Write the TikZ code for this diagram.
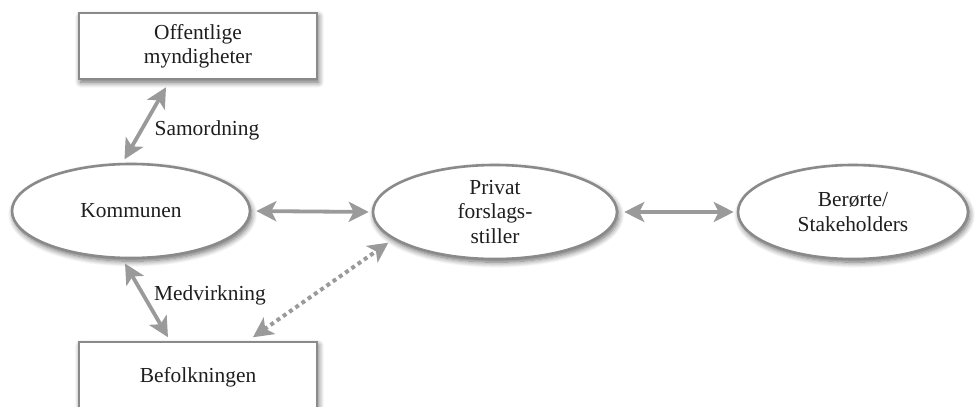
\documentclass[tikz,border=0pt]{standalone}
\usepackage{fontspec}
\setmainfont{Liberation Serif}
\usetikzlibrary{shapes.geometric,arrows.meta,shadows.blur}

\definecolor{edgegray}{HTML}{8A8A8A}
\definecolor{arrowgray}{HTML}{9A9A9A}
\definecolor{inkgray}{HTML}{1E1E1E}

\tikzset{
  softshadow/.style={blur shadow={shadow xshift=0.8pt, shadow yshift=-1.6pt,
      shadow blur radius=2.8pt, shadow blur steps=8, shadow opacity=60}},
  labeltext/.style={text=inkgray, font=\fontsize{10.7}{12.2}\selectfont, align=center},
  actorbox/.style={rectangle, draw=edgegray, line width=1.3pt, fill=white,
      softshadow, labeltext, minimum width=119pt, inner sep=0pt},
  actorell/.style={ellipse, draw=edgegray, line width=1.3pt, fill=white,
      softshadow, labeltext, minimum height=47pt, inner sep=0pt},
  link/.style={draw=arrowgray, line width=1.9pt,
      {Stealth[length=10pt,width=10pt,inset=2.5pt]}-{Stealth[length=10pt,width=10pt,inset=2.5pt]}},
  looselink/.style={draw=arrowgray, line width=2pt,
      dash pattern=on 2pt off 1.8pt,
      {Stealth[length=10pt,width=10pt,inset=2.5pt]}-{Stealth[length=10pt,width=10pt,inset=2.5pt]}},
  edgelabel/.style={labeltext}
}

\begin{document}
\begin{tikzpicture}[x=0.5pt, y=-0.5pt]
  \useasboundingbox (0,0) rectangle (975,407);
  \clip (0,0) rectangle (975,407);

  % actors
  \node[actorbox, minimum height=33pt] (off) at (198,46) {Offentlige\\myndigheter};
  \node[actorell, minimum width=119pt] (kom) at (131,211) {Kommunen};
  \node[actorell, minimum width=122pt] (priv) at (495,212) {Privat\\forslags-\\stiller};
  \node[actorell, minimum width=115pt] (ber) at (853,212) {Berørte/\\Stakeholders};
  \node[actorbox, minimum height=35pt] (bef) at (198,377) {Befolkningen};

  % relations
  \draw[link, shorten <=2pt, shorten >=4pt] (kom.100) -- ([xshift=-14pt]off.south);
  \draw[link, shorten <=2.5pt, shorten >=2pt] (kom.260) -- ([xshift=-14pt]bef.north);
  \draw[link, shorten <=2.5pt, shorten >=1.5pt] (kom.east) -- (priv.west);
  \draw[link, shorten <=3pt, shorten >=1.5pt] (priv.east) -- (ber.west);
  \draw[looselink, shorten <=3pt, shorten >=3pt] ([xshift=25pt]bef.north) -- (priv.195);

  % relation labels
  \node[edgelabel] (samlab) at (207,130) {Samordning};
  \node[edgelabel] (medlab) at (210,295) {Medvirkning};
\end{tikzpicture}
\end{document}
